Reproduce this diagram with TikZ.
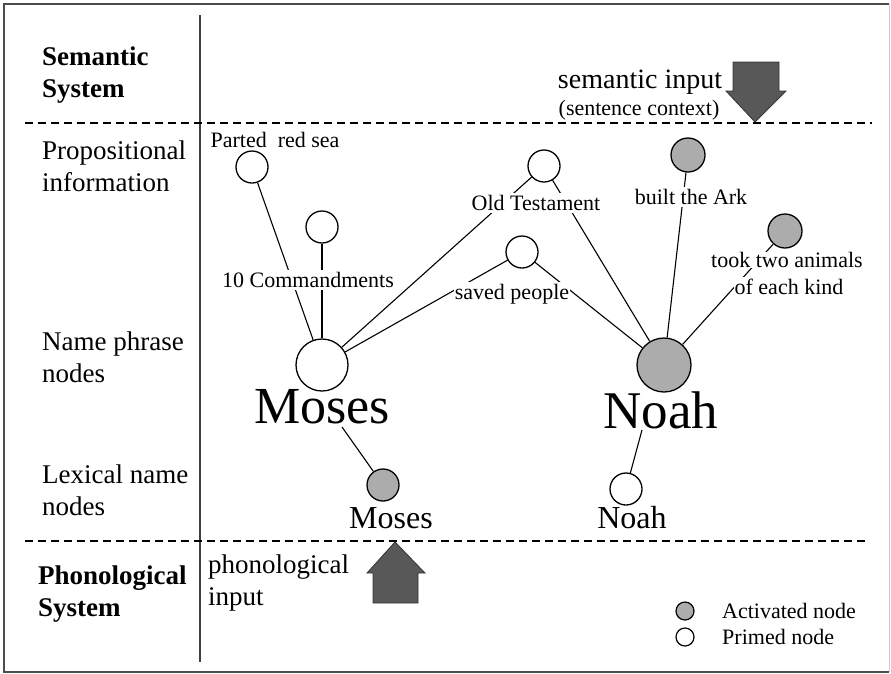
\documentclass[tikz,border=0pt]{standalone}
\usepackage{fontspec}
\setmainfont{Liberation Serif}
\definecolor{actgray}{RGB}{172,172,172}
\definecolor{arrowgray}{RGB}{88,88,88}
\begin{document}
\begin{tikzpicture}[x=1pt,y=-1pt,
  nd/.style={circle,draw,line width=1.3pt,inner sep=0pt,minimum size=32pt},
  act/.style={nd,fill=actgray},
  prm/.style={nd,fill=white},
  lbl/.style={fill=white,inner xsep=1pt,inner ysep=2.5pt,font=\fontsize{22}{26}\selectfont},
  side/.style={anchor=west,align=left,inner sep=0pt,font=\fontsize{27}{32}\selectfont},
  link/.style={line width=1.1pt},
  sep/.style={line width=1.2pt,dash pattern=on 8pt off 5pt},
  bigarrow/.style={fill=arrowgray,draw=black!80,line width=0.8pt}]
\useasboundingbox (0,0) rectangle (891,673);
% frame
\draw[black!70, line width=1.5pt] (889,4) -- (4,4) -- (4,672) -- (889,672);
\draw[black!20, line width=1pt] (889,4) -- (889,672);
% vertical divider and separators
\draw[black!75, line width=2.5pt] (200,15) -- (200,662);
\draw[sep] (25,123) -- (872,123);
\draw[sep] (25,541) -- (867,541);
% side labels
\node[side,font=\fontsize{27}{32}\selectfont\bfseries] (semsys) at (42,75) {Semantic\\System};
\node[side] (propinfo) at (42,166) {Propositional\\information};
\node[side] (namephr) at (42,357) {Name phrase\\nodes};
\node[side] (lexname) at (42,490) {Lexical name\\nodes};
\node[side,font=\fontsize{27}{32}\selectfont\bfseries] (phonsys) at (38,594) {Phonological\\System};
\node[side] (phoninp) at (208,583) {phonological\\input};
% inputs
\node[font=\fontsize{28}{32}\selectfont,inner sep=0pt] (seminp) at (640,82) {semantic input};
\node[font=\fontsize{22}{26}\selectfont,inner sep=0pt] (sentctx) at (639,110) {(sentence context)};
\draw[bigarrow] (733,62) -- (779,62) -- (779,91) -- (786,91) -- (755,122) -- (726,91) -- (733,91) -- cycle;
\draw[bigarrow] (395,542) -- (425,573) -- (418,573) -- (418,603) -- (373,603) -- (373,573) -- (367,573) -- cycle;
% nodes
\node[prm] (parted) at (252,167) {};
\node[prm] (cmd) at (322,227) {};
\node[prm] (oldt) at (544,166) {};
\node[prm] (saved) at (522,252) {};
\node[act,minimum size=34pt] (ark) at (688,155) {};
\node[act,minimum size=34pt] (took) at (785,231) {};
\node[prm,minimum size=52pt] (moses) at (322,365) {};
\node[act,minimum size=54pt] (noah) at (664,365) {};
\node[act] (mlex) at (383,485) {};
\node[prm] (nlex) at (626,489) {};
\coordinate (mwb) at (342,427);
\coordinate (nwb) at (642,430);
% connectors
\draw[link] (parted) -- (moses);
\draw[link] (cmd) -- (moses);
\draw[link] (moses) -- (oldt);
\draw[link] (moses) -- (saved);
\draw[link] (saved) -- (noah);
\draw[link] (oldt) -- (noah);
\draw[link] (ark) -- (noah);
\draw[link] (took) -- (noah);
\draw[link] (mwb) -- (mlex);
\draw[link] (nwb) -- (nlex);
% labels
\node[lbl] (partedL) at (275,140) {Parted\ \ red sea};
\node[lbl] (cmdL) at (308,280) {10 Commandments};
\node[lbl] (oldtL) at (536,203) {Old Testament};
\node[lbl] (arkL) at (691,197) {built the Ark};
\node[lbl] (savedL) at (512,294) {saved people};
\node[lbl,inner ysep=0.5pt] (tookA) at (787,260) {took two animals};
\node[lbl] (tookB) at (789,287) {of each kind};
\node[inner sep=0pt,font=\fontsize{52}{60}\selectfont] (mosesW) at (322,407) {Moses};
\node[inner sep=0pt,font=\fontsize{53}{60}\selectfont] (noahW) at (661,410) {Noah};
\node[inner sep=0pt,font=\fontsize{32}{36}\selectfont] (mosesLW) at (391,518) {Moses};
\node[inner sep=0pt,font=\fontsize{32}{36}\selectfont] (noahLW) at (632,518) {Noah};
% legend
\node[circle,draw,line width=1.2pt,inner sep=0pt,minimum size=18pt,fill=actgray] (legA) at (685,611) {};
\node[circle,draw,line width=1.2pt,inner sep=0pt,minimum size=18pt,fill=white] (legP) at (685,637) {};
\node[anchor=west,inner sep=0pt,font=\fontsize{22}{26}\selectfont] (legAL) at (722,611) {Activated node};
\node[anchor=west,inner sep=0pt,font=\fontsize{22}{26}\selectfont] (legPL) at (722,637) {Primed node};
\end{tikzpicture}
\end{document}
